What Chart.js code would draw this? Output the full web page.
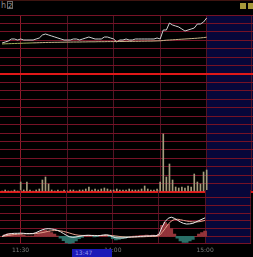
<!DOCTYPE html>
<html><head><meta charset="utf-8">
<script src="https://cdn.jsdelivr.net/npm/chart.js@4/dist/chart.umd.min.js"></script>
<style>
html,body{margin:0;padding:0;background:#000;}
body{width:253px;height:257px;overflow:hidden;position:relative;font-family:'DejaVu Sans',sans-serif;}
canvas{position:absolute;left:0;}
.ab{position:absolute;}
</style></head><body>
<div class="ab" style="left:0;top:0;width:253px;height:1px;background:#3e1410"></div>
<div class="ab" style="left:1px;top:1px;font-size:8px;line-height:9px;color:#8a8a8a">h</div>
<div class="ab" style="left:7px;top:1px;width:6px;height:8px;border:1px solid #6a6a6a;font-size:7px;line-height:8px;color:#9a9a9a;text-align:center;box-sizing:border-box">2</div>
<div class="ab" style="left:240px;top:3px;width:6px;height:6px;background:#a89a3a"></div>
<div class="ab" style="left:248px;top:3px;width:5px;height:6px;background:#a89a3a"></div>
<canvas id="c1" width="253" height="61" style="top:14px"></canvas>
<canvas id="c2" width="253" height="120" style="top:73px"></canvas>
<canvas id="c3" width="253" height="68" style="top:189px"></canvas>
<div class="ab" style="left:72px;top:249px;width:40px;height:8px;background:#1a1ab8;color:#9096e8;font-size:6px;line-height:8px;padding-left:3px;box-sizing:border-box">13:47</div>
<script>
const times=[108,110,112,114,116,118,120,122,124,126,
128,130,132,134,136,138,140,142,144,146,
148,150,152,154,156,158,160,162,164,166,
168,170,172,174,176,178,180,182,184,186,
188,190,192,194,196,198,200,202,204,206,
208,210,212,214,216,218,220,222,224,226,
228,230,232,234,236,238,240];
const price=[10.31,10.32,10.33,10.35,10.35,10.34,10.35,10.34,10.34,10.34,
10.34,10.35,10.36,10.39,10.40,10.39,10.38,10.37,10.36,10.35,
10.34,10.34,10.34,10.35,10.35,10.34,10.35,10.36,10.37,10.36,
10.35,10.35,10.35,10.37,10.37,10.36,10.35,10.32,10.34,10.34,
10.35,10.34,10.34,10.35,10.35,10.35,10.35,10.35,10.35,10.35,
10.36,10.35,10.44,10.44,10.51,10.49,10.48,10.47,10.45,10.43,
10.44,10.45,10.46,10.50,10.50,10.52,10.56];
const avgPrice=[10.300,10.302,10.303,10.304,10.305,10.306,10.307,10.308,10.309,10.310,
10.311,10.312,10.313,10.314,10.315,10.316,10.316,10.317,10.317,10.318,
10.318,10.319,10.319,10.320,10.320,10.320,10.321,10.321,10.322,10.322,
10.322,10.323,10.323,10.323,10.324,10.324,10.324,10.325,10.325,10.325,
10.326,10.326,10.326,10.327,10.327,10.328,10.328,10.329,10.329,10.330,
10.331,10.332,10.335,10.338,10.340,10.342,10.344,10.346,10.348,10.350,
10.352,10.354,10.356,10.358,10.361,10.364,10.368];
const volume=[100,200,100,100,200,100,1000,200,1000,200,
100,200,300,1200,1500,800,200,100,200,100,
200,100,200,200,100,200,200,300,500,200,
300,200,300,400,300,200,200,300,200,200,
200,300,200,200,200,300,600,300,200,200,
300,1000,5800,1500,2800,1200,500,400,500,400,
600,500,1800,1000,800,2000,2200];
const dif=[0.0000,0.0015,0.0025,0.0030,0.0033,0.0033,0.0035,0.0033,0.0030,0.0030,
0.0030,0.0040,0.0055,0.0070,0.0080,0.0083,0.0080,0.0075,0.0065,0.0050,
0.0030,0.0010,-0.0005,-0.0010,-0.0007,0.0000,0.0005,0.0010,0.0012,0.0010,
0.0007,0.0007,0.0010,0.0015,0.0017,0.0010,-0.0005,-0.0015,-0.0017,-0.0017,
-0.0015,-0.0010,-0.0007,-0.0005,-0.0003,0.0000,0.0002,0.0005,0.0005,0.0007,
0.0007,0.0020,0.0100,0.0160,0.0195,0.0207,0.0195,0.0175,0.0155,0.0140,
0.0133,0.0135,0.0140,0.0155,0.0170,0.0185,0.0200];
const dea=[0.0000,0.0005,0.0010,0.0015,0.0020,0.0023,0.0025,0.0027,0.0028,0.0028,
0.0029,0.0030,0.0035,0.0040,0.0047,0.0055,0.0060,0.0063,0.0063,0.0060,
0.0053,0.0045,0.0035,0.0025,0.0017,0.0012,0.0010,0.0010,0.0010,0.0010,
0.0010,0.0009,0.0009,0.0010,0.0011,0.0011,0.0008,0.0004,0.0000,-0.0004,
-0.0006,-0.0007,-0.0007,-0.0007,-0.0006,-0.0005,-0.0004,-0.0002,-0.0001,0.0000,
0.0001,0.0007,0.0040,0.0085,0.0130,0.0165,0.0182,0.0185,0.0180,0.0172,
0.0165,0.0160,0.0156,0.0155,0.0158,0.0164,0.0172];
const macdBar=[0.0000,0.0020,0.0030,0.0030,0.0026,0.0020,0.0020,0.0012,0.0004,0.0004,
0.0002,0.0020,0.0040,0.0060,0.0066,0.0056,0.0040,0.0024,0.0004,-0.0020,
-0.0046,-0.0070,-0.0080,-0.0070,-0.0048,-0.0024,-0.0010,0.0000,0.0004,0.0000,
-0.0006,-0.0004,0.0002,0.0010,0.0012,-0.0002,-0.0026,-0.0038,-0.0034,-0.0026,
-0.0018,-0.0006,0.0000,0.0004,0.0006,0.0010,0.0012,0.0014,0.0012,0.0014,
0.0012,0.0026,0.0120,0.0150,0.0130,0.0084,0.0026,-0.0020,-0.0050,-0.0064,
-0.0064,-0.0050,-0.0032,0.0000,0.0024,0.0042,0.0056];
const timeTicks=[120,150,180,210,240];
const tickLabels={120:'11:30',180:'14:00',240:'15:00'};
const X_MIN=106.65, X_MAX=269.9, X_EDGE=269.2;

const pts=arr=>arr.map((v,i)=>({x:times[i],y:v}));
const GRID='#761226', BRIGHT='#e01818', VDIM='#521424', VBRIGHT='#8c1a2a', NAVY='#07073a';

const navy={id:'navy',beforeDraw(c){
  const a=c.chartArea, x=c.scales.x;
  const x0=x.getPixelForValue(times[times.length-1]);
  c.ctx.save(); c.ctx.fillStyle=NAVY;
  c.ctx.fillRect(x0,a.top,a.right-x0,a.bottom-a.top);
  c.ctx.restore();
}};

function xScale(show){
  return {type:'linear',min:X_MIN,max:X_MAX,offset:false,
    afterBuildTicks:s=>{s.ticks=[...timeTicks,X_EDGE].map(v=>({value:v}));},
    grid:{offset:false,drawTicks:false,lineWidth:1,color:c=>(c.tick&&c.tick.value===120)?VBRIGHT:VDIM},
    border:{display:false},
    ticks:{display:show,autoSkip:false,maxRotation:0,padding:3,color:'#7a7a7a',
      font:{size:6,family:'DejaVu Sans'},callback:v=>tickLabels[v]||''}
  };
}
function yScale(min,max,count,colorFn,widthFn){
  return {min,max,grid:{drawTicks:false,color:colorFn,lineWidth:widthFn},
    border:{display:false},ticks:{display:false,count}};
}
const base={responsive:false,animation:false,devicePixelRatio:1,events:[],
  plugins:{legend:{display:false},tooltip:{enabled:false}},
  elements:{point:{radius:0},line:{tension:0}}};

new Chart(document.getElementById('c1'),{type:'line',
  data:{datasets:[
    {data:pts(avgPrice),borderColor:'#c8b48a',borderWidth:1,
     segment:{borderColor:s=>s.p0DataIndex<10?'#a6ae5a':undefined}},
    {data:pts(price),borderColor:'#d0d0d0',borderWidth:1}
  ]},
  options:{...base,layout:{padding:{top:1,bottom:1,left:0,right:0}},
    scales:{x:xScale(false),
      y:yScale(10.00,10.59,8,c=>c.index===0?BRIGHT:GRID,c=>c.index===0?2:1)}},
  plugins:[navy]});

new Chart(document.getElementById('c2'),{type:'bar',
  data:{datasets:[{data:pts(volume),backgroundColor:'#a39c7c',barThickness:1}]},
  options:{...base,layout:{padding:{top:1,bottom:1,left:0,right:0}},
    scales:{x:xScale(false),
      y:yScale(0,11800,15,c=>(c.index===0||c.index===14)?BRIGHT:GRID,c=>(c.index===0||c.index===14)?2:1)}},
  plugins:[navy]});

new Chart(document.getElementById('c3'),{type:'bar',
  data:{datasets:[
    {type:'line',data:pts(dif),borderColor:'#eaeaea',borderWidth:1,order:0},
    {type:'line',data:pts(dea),borderColor:'#e4a08c',borderWidth:1,order:1},
    {type:'bar',data:pts(macdBar),barPercentage:1,categoryPercentage:1,order:2,
     backgroundColor:c=>(c.raw&&c.raw.y<0)?'#2a7068':'#93343a'}
  ]},
  options:{...base,layout:{padding:{top:1,bottom:0,left:0,right:0}},
    scales:{x:xScale(true),
      y:yScale(-0.008,0.050,8,c=>c.index===7?'rgba(0,0,0,0)':GRID,1)}},
  plugins:[navy]});
</script>
</body></html>
